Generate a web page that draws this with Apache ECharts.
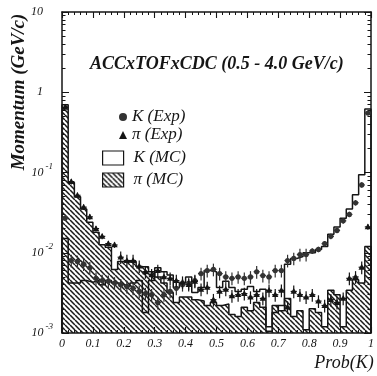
<!DOCTYPE html>
<html><head><meta charset="utf-8">
<style>html,body{margin:0;padding:0;background:#fff}#c{width:377px;height:376px}</style>
<script src="https://cdn.jsdelivr.net/npm/echarts@6/dist/echarts.min.js"></script>
</head><body><div id="c"></div>
<script>
// 50 bins of width 0.02 in Prob(K)
const binWidth = 0.02;
const yMin = 0.001, yMax = 10;

const piMC = [0.7,0.075,0.05,0.035,0.024,0.018,0.0126,0.0117,0.0062,0.0078,
  0.0078,0.0078,0.0067,0.0067,0.0058,0.005,0.0042,0.0032,0.0024,0.0028,
  0.0028,0.0026,0.0025,0.0022,0.0024,0.0022,0.0023,0.0017,0.0016,0.0021,
  0.0019,0.0024,0.0021,0.00105,0.0022,0.0019,0.0027,0.0016,0.0019,0.0011,
  0.002,0.0018,0.0012,0.0034,0.003,0.0012,0.0034,0.0046,0.0042,0.012];

const kMC = [0.015,0.0042,0.0042,0.0045,0.0043,0.0045,0.004,0.0045,0.0042,0.004,
  0.0038,0.0042,0.0045,0.0018,0.0045,0.0065,0.0058,0.0053,0.0037,0.0042,
  0.005,0.0032,0.0037,0.006,0.0058,0.0037,0.0044,0.0037,0.0033,0.0035,
  0.0038,0.0033,0.0035,0.0012,0.0018,0.0022,0.0072,0.0085,0.009,0.01,
  0.01,0.011,0.012,0.017,0.021,0.027,0.035,0.053,0.094,0.62];

const kExp = [0.027,0.008,0.0078,0.0072,0.0065,0.0048,0.0045,0.0044,0.0042,0.004,
  0.0038,0.0036,0.0033,0.0031,0.003,0.0024,0.003,0.0033,0.0036,0.004,
  0.0042,0.0045,0.0055,0.006,0.0062,0.0055,0.005,0.0048,0.005,0.0048,
  0.005,0.0058,0.0052,0.005,0.006,0.006,0.008,0.0085,0.0095,0.0095,
  0.0105,0.011,0.013,0.016,0.019,0.025,0.03,0.042,0.07,0.55];

const piExp = [0.65,0.077,0.052,0.037,0.028,0.02,0.016,0.013,0.0125,0.0088,
  0.008,0.008,0.0068,0.0058,0.0053,0.006,0.005,0.0048,0.0045,0.0043,
  0.004,0.0044,0.0035,0.0037,0.0026,0.0033,0.0035,0.0029,0.003,0.0031,
  0.0028,0.003,0.0027,0.0034,0.003,0.0034,0.0021,0.0033,0.003,0.0028,
  0.003,0.0025,0.0022,0.0026,0.0024,0.0027,0.0048,0.005,0.0066,0.021];

const yMinorTicks = [];
[0.001,0.01,0.1,1].forEach(d => { for (let k = 2; k <= 9; k++) yMinorTicks.push(+(d*k).toPrecision(3)); });

const FONT = '"Liberation Serif", "DejaVu Serif", serif';
const INK = '#151515';

function hatchCanvas() {
  const s = 5, c = document.createElement('canvas');
  c.width = s; c.height = s;
  const g = c.getContext('2d');
  g.strokeStyle = '#1a1a1a'; g.lineWidth = 1.5;
  g.beginPath();
  for (let k = -1; k <= 1; k++) { g.moveTo(k*s, 0); g.lineTo(k*s + s, s); }
  g.stroke();
  return c;
}
const hatch = { image: hatchCanvas(), repeat: 'repeat' };

function stepData(vals) {
  const d = [[0, yMin]];
  vals.forEach((v, i) => d.push([i*binWidth, v]));
  d.push([1, vals[vals.length-1]]);
  d.push([1, yMin]);
  return d;
}
function relErr(v) { return v < 0.01 ? 0.18 : (v < 0.1 ? 0.08 : 0.03); }

function pointSeries(name, vals, shape, color) {
  return {
    type: 'custom', name, z: 6, clip: true,
    data: vals.map((v, i) => [(i+0.5)*binWidth, v, v*(1-relErr(v)), v*(1+relErr(v))]),
    renderItem(params, api) {
      const x = api.value(0), y = api.value(1);
      const p = api.coord([x, y]);
      const lo = api.coord([x, api.value(2)]), hi = api.coord([x, api.value(3)]);
      const l = api.coord([x - binWidth/2, y]), r = api.coord([x + binWidth/2, y]);
      const st = { stroke: color, lineWidth: 1.2 };
      const ch = [
        { type: 'line', shape: { x1: p[0], y1: lo[1], x2: p[0], y2: hi[1] }, style: st },
        { type: 'line', shape: { x1: l[0], y1: p[1], x2: r[0], y2: p[1] }, style: st }
      ];
      if (shape === 'circle') ch.push({ type: 'circle', shape: { cx: p[0], cy: p[1], r: 2.6 }, style: { fill: color } });
      else ch.push({ type: 'polygon', shape: { points: [[p[0], p[1]-3.4],[p[0]-3.2, p[1]+2.4],[p[0]+3.2, p[1]+2.4]] }, style: { fill: color } });
      return { type: 'group', children: ch };
    }
  };
}

const axisLineStyle = { color: INK, width: 1.5 };
function xAx(pos, labels) {
  return {
    type: 'value', position: pos, min: 0, max: 1, interval: 0.1,
    axisLine: { show: true, onZero: false, lineStyle: axisLineStyle },
    axisTick: { show: true, inside: true, length: 6, lineStyle: { color: INK, width: 1.1 } },
    minorTick: { show: true, splitNumber: 5, length: 3, lineStyle: { color: INK, width: 1 } },
    splitLine: { show: false },
    axisLabel: { show: labels, margin: 5, fontFamily: FONT, fontStyle: 'italic', fontSize: 12, color: INK,
      formatter: v => (v === 0 ? '0' : v === 1 ? '1' : v.toFixed(1)) }
  };
}
function yAx(pos, labels, minor) {
  const a = {
    type: 'log', logBase: 10, position: pos, min: yMin, max: yMax,
    axisLine: { show: !minor, onZero: false, lineStyle: axisLineStyle },
    axisTick: { show: true, inside: true, length: minor ? 3.5 : 7, lineStyle: { color: INK, width: 1 } },
    splitLine: { show: false },
    axisLabel: { show: labels }
  };
  if (minor) a.axisTick.customValues = yMinorTicks;
  if (labels) {
    a.axisLabel = {
      show: true, margin: 9, fontFamily: FONT, fontStyle: 'italic', fontSize: 12, color: INK,
      formatter: v => {
        const e = Math.round(Math.log10(v));
        if (e === 1) return '10{s|}';
        if (e === 0) return '1{s|}';
        return '10{e|' + e + '}';
      },
      rich: {
        e: { fontFamily: FONT, fontStyle: 'italic', fontSize: 9, color: INK, padding: [0, 0, 12, 2] },
        s: { width: 10 }
      }
    };
  }
  return a;
}

const chart = echarts.init(document.getElementById('c'), null, { renderer: 'canvas' });
chart.setOption({
  backgroundColor: '#fff',
  animation: false,
  title: {
    text: 'ACCxTOFxCDC (0.5 - 4.0 GeV/c)', left: 90, top: 55, padding: 0,
    textStyle: { fontFamily: FONT, fontStyle: 'italic', fontWeight: 'bold', fontSize: 18, color: INK }
  },
  grid: { left: 62, right: 3, top: 12, bottom: 43, containLabel: false },
  xAxis: [xAx('bottom', true), xAx('top', false)],
  yAxis: [yAx('left', true, false), yAx('left', false, true), yAx('right', false, false), yAx('right', false, true)],
  legend: [
    {
      orient: 'vertical', left: 119, top: 108, padding: 0, itemGap: 0, itemWidth: 8, itemHeight: 8,
      selectedMode: false,
      textStyle: { fontFamily: FONT, fontStyle: 'italic', fontSize: 17, lineHeight: 18, color: INK },
      data: [
        { name: 'K (Exp)', icon: 'circle', itemStyle: { color: '#333' } },
        { name: 'π (Exp)', icon: 'triangle', itemStyle: { color: INK } }
      ]
    },
    {
      orient: 'vertical', left: 102, top: 147, padding: 0, itemGap: 0, itemWidth: 21, itemHeight: 14,
      selectedMode: false,
      textStyle: { fontFamily: FONT, fontStyle: 'italic', fontSize: 17, lineHeight: 22, color: INK, padding: [0, 0, 0, 5] },
      data: [
        { name: 'K (MC)', icon: 'rect', itemStyle: { color: '#fff', borderColor: INK, borderWidth: 1.2 } },
        { name: 'π (MC)', icon: 'rect', itemStyle: { color: hatch, borderColor: INK, borderWidth: 1.2 } }
      ]
    }
  ],
  graphic: [
    { type: 'text', x: 19, y: 92, rotation: Math.PI/2,
      style: { text: 'Momentum (GeV/c)', font: 'italic bold 19px ' + FONT, fill: INK, align: 'center', verticalAlign: 'middle' } },
    { type: 'text', x: 344, y: 363,
      style: { text: 'Prob(K)', font: 'italic 18px ' + FONT, fill: INK, align: 'center', verticalAlign: 'middle' } }
  ],
  series: [
    { type: 'line', name: 'π (MC)', step: 'end', data: stepData(piMC), symbol: 'none', z: 2,
      lineStyle: { color: INK, width: 1.5 }, itemStyle: { color: INK },
      areaStyle: { color: hatch, opacity: 1, origin: 'start' } },
    { type: 'line', name: 'K (MC)', step: 'end', data: stepData(kMC), symbol: 'none', z: 3,
      lineStyle: { color: INK, width: 1.5 }, itemStyle: { color: INK } },
    pointSeries('K (Exp)', kExp, 'circle', '#333'),
    pointSeries('π (Exp)', piExp, 'triangle', INK)
  ]
});
</script></body></html>
